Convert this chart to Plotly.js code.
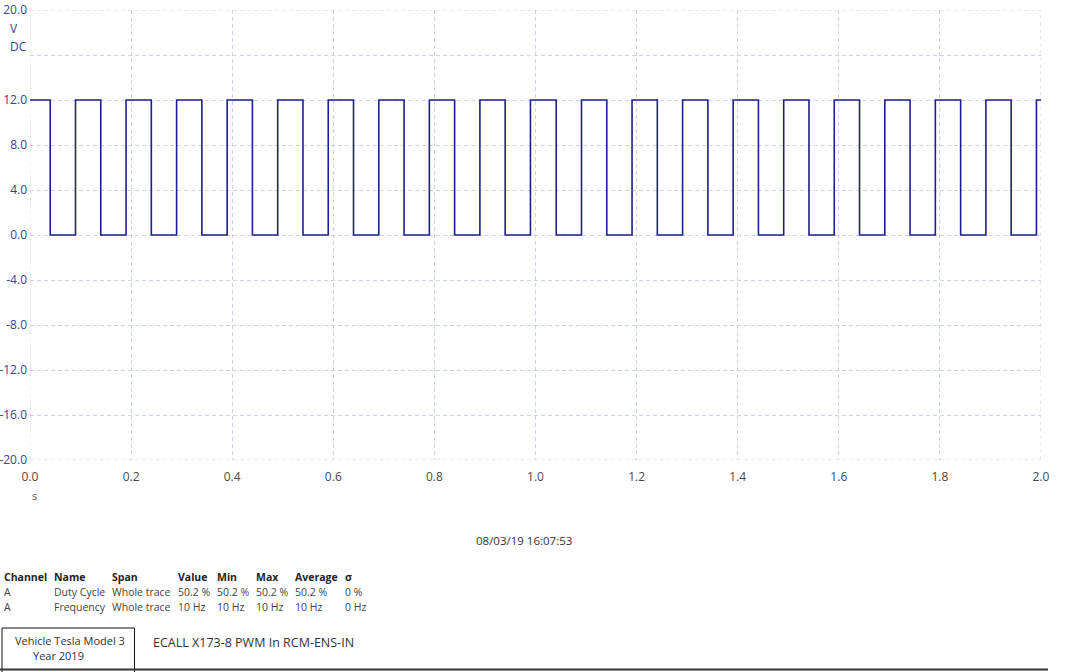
<!DOCTYPE html>
<html>
<head>
<meta charset="utf-8">
<script src="https://cdn.plot.ly/plotly-3.0.1.min.js"></script>
<style>
html,body{margin:0;padding:0;background:#fff;}
#chart{width:1073px;height:672px;}
</style>
</head>
<body>
<div id="chart"></div>
<script>
// ---- data ----
const fallingEdges = [0.040, 0.140, 0.240, 0.340, 0.440, 0.540, 0.640, 0.740, 0.840, 0.940,
                      1.041, 1.141, 1.241, 1.341, 1.441, 1.541, 1.641, 1.741, 1.841, 1.941];
const risingEdges  = [0.090, 0.190, 0.290, 0.390, 0.490, 0.590, 0.690, 0.790, 0.890, 0.990,
                      1.091, 1.191, 1.291, 1.391, 1.491, 1.591, 1.691, 1.791, 1.891, 1.991];
const highLevel = 12.0;
const lowLevel = 0.0;
const traceStart = 0.0;
const traceEnd = 2.0;

const xTickVals = [0.0, 0.2, 0.4, 0.6, 0.8, 1.0, 1.2, 1.4, 1.6, 1.8, 2.0];
const xTickText = ["0.0", "0.2", "0.4", "0.6", "0.8", "1.0", "1.2", "1.4", "1.6", "1.8", "2.0"];
const yTickVals = [-20, -16, -12, -8, -4, 0, 4, 8, 12, 16, 20];
const yTickText = ["-20.0", "-16.0", "-12.0", "-8.0", "-4.0", "0.0", "4.0", "8.0", "12.0", "", "20.0"];
const yMin = -20, yMax = 20;

const dateText = "08/03/19 16:07:53";
const tableHeader = ["Channel", "Name", "Span", "Value", "Min", "Max", "Average", "σ"];
const tableRow1 = ["A", "Duty Cycle", "Whole trace", "50.2 %", "50.2 %", "50.2 %", "50.2 %", "0 %"];
const tableRow2 = ["A", "Frequency", "Whole trace", "10 Hz", "10 Hz", "10 Hz", "10 Hz", "0 Hz"];
const vehicleLine1 = "Vehicle Tesla Model 3";
const vehicleLine2 = "Year 2019";
const signalTitle = "ECALL X173-8 PWM In RCM-ENS-IN";

// ---- build step trace from edges ----
const xs = [traceStart], ys = [highLevel];
for (let i = 0; i < fallingEdges.length; i++) {
  xs.push(fallingEdges[i]); ys.push(lowLevel);
  xs.push(risingEdges[i]); ys.push(highLevel);
}
xs.push(traceEnd); ys.push(highLevel);

// ---- layout geometry ----
const W = 1073, H = 672;
const mL = 30, mR = 32, mT = 10, mB = 212;
const pw = W - mL - mR, ph = H - mT - mB;
const px = p => (p - mL) / pw;
const py = p => (H - mB - p) / ph;

const fontFam = '"Open Sans", "Noto Sans", sans-serif';
const anns = [];
function ann(text, x, y, opts) {
  opts = opts || {};
  anns.push({
    text: text, xref: 'paper', yref: 'paper', x: px(x), y: py(y),
    xanchor: opts.xanchor || 'left', yanchor: 'middle', showarrow: false,
    font: {family: fontFam, size: opts.size || 11, color: opts.color || '#333333'}
  });
}

ann("V", 14, 28, {xanchor: 'center', size: 12, color: '#3a4190'});
ann("DC", 18, 47, {xanchor: 'center', size: 12, color: '#3a4190'});
ann("s", 34, 495, {xanchor: 'center', size: 11, color: '#555555'});
ann(dateText, 524, 540, {xanchor: 'center', size: 11.5, color: '#333333'});

const colX = [2, 51.5, 110, 175.5, 215, 254, 293, 342.5];
tableHeader.forEach((t, i) => ann('<b>' + t + '</b>', colX[i], 577, {size: 10.5, color: '#222'}));
tableRow1.forEach((t, i) => ann(t, colX[i], 592, {size: 10.5, color: '#444'}));
tableRow2.forEach((t, i) => ann(t, colX[i], 607, {size: 10.5, color: '#444'}));

ann(vehicleLine1, 69.5, 640, {xanchor: 'center', size: 11, color: '#333'});
ann(vehicleLine2, 31, 655, {xanchor: 'left', size: 11, color: '#333'});
ann(signalTitle, 151, 642, {xanchor: 'left', size: 12.5, color: '#333'});

const gridColor = '#cdd5e0';
const gridDash = '4px,3px';
const shapes = [
  {type: 'rect', xref: 'paper', yref: 'paper', x0: px(2), x1: px(134.5), y0: py(690), y1: py(628),
   line: {color: '#111', width: 1}, fillcolor: 'rgba(0,0,0,0)'},
  {type: 'line', xref: 'paper', yref: 'paper', x0: px(0), x1: px(1048), y0: py(669.5), y1: py(669.5),
   line: {color: '#333', width: 2}},
  // frame edges drawn as dashed grid lines like the other gridlines
  {type: 'line', xref: 'x', yref: 'paper', x0: traceStart, x1: traceStart, y0: 0, y1: 1,
   line: {color: gridColor, width: 1, dash: gridDash}, layer: 'below'},
  {type: 'line', xref: 'x', yref: 'paper', x0: traceEnd, x1: traceEnd, y0: 0, y1: 1,
   line: {color: gridColor, width: 1, dash: gridDash}, layer: 'below'},
  {type: 'line', xref: 'paper', yref: 'y', x0: 0, x1: 1, y0: yMax, y1: yMax,
   line: {color: gridColor, width: 1, dash: gridDash}, layer: 'below'},
  {type: 'line', xref: 'paper', yref: 'y', x0: 0, x1: 1, y0: yMin, y1: yMin,
   line: {color: gridColor, width: 1, dash: gridDash}, layer: 'below'}
];

const trace = {
  x: xs, y: ys, type: 'scatter', mode: 'lines',
  line: {shape: 'hv', color: '#1e1f8c', width: 1.6},
  hoverinfo: 'skip', cliponaxis: false
};

const layout = {
  width: W, height: H,
  margin: {l: mL, r: mR, t: mT, b: mB, pad: 0},
  paper_bgcolor: '#ffffff', plot_bgcolor: '#ffffff',
  showlegend: false,
  font: {family: fontFam},
  xaxis: {
    range: [traceStart, traceEnd], tickmode: 'array', tickvals: xTickVals, ticktext: xTickText,
    showgrid: true, gridcolor: gridColor, griddash: gridDash, gridwidth: 1,
    zeroline: false, showline: false, ticks: '', ticklabelstandoff: 8,
    tickfont: {family: fontFam, size: 12, color: '#4a4a4a'}, fixedrange: true
  },
  yaxis: {
    range: [yMin, yMax], tickmode: 'array', tickvals: yTickVals, ticktext: yTickText,
    showgrid: true, gridcolor: gridColor, griddash: gridDash, gridwidth: 1,
    zeroline: false, showline: false, ticks: '', ticklabelstandoff: 2,
    tickfont: {family: fontFam, size: 12, color: '#3a4190'}, fixedrange: true
  },
  annotations: anns,
  shapes: shapes
};

Plotly.newPlot('chart', [trace], layout, {displayModeBar: false, staticPlot: true});
</script>
</body>
</html>
